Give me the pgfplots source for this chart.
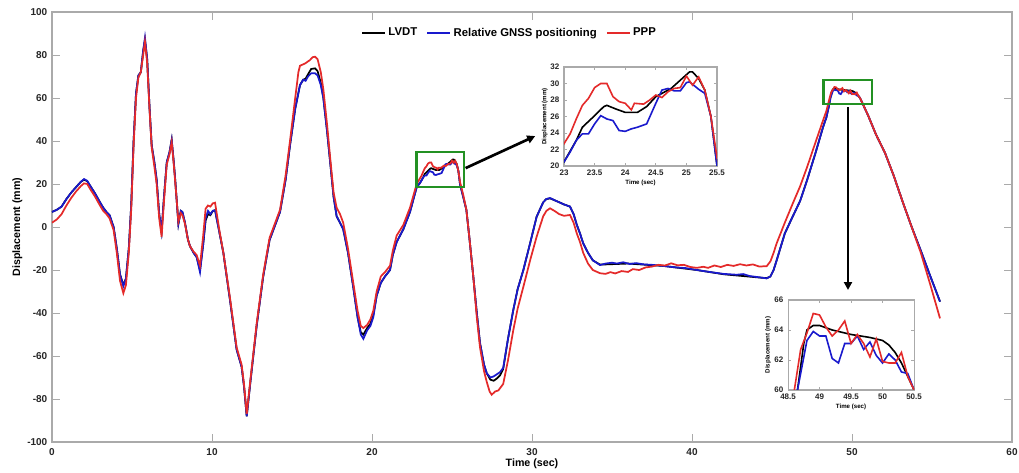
\documentclass[border=0pt]{standalone}
\usepackage{fontspec}
\setmainfont{Liberation Sans}
\usepackage{pgfplots}
\usepackage{pgfplotstable}
\pgfplotsset{compat=1.18}
\usetikzlibrary{arrows.meta}
\definecolor{cblue}{RGB}{25,25,205}
\definecolor{cred}{RGB}{228,42,42}
\definecolor{cgreen}{RGB}{35,145,35}
\definecolor{axgray}{RGB}{170,170,170}

\pgfplotstableread{
t v
0 7
0.3 8
0.6 9.5
0.9 13
1.2 16
1.5 18.5
1.8 21
2.0 22
2.2 21.3
2.4 19
2.7 15.5
3.0 11.5
3.2 9
3.4 7
3.6 5.5
3.85 0
4.05 -10
4.25 -22
4.46 -27
4.62 -24
4.8 -10
4.95 10
5.1 40
5.25 62
5.4 70.5
5.55 72
5.7 82
5.81 87
5.95 78
6.1 55
6.23 38
6.4 30
6.54 22
6.7 6
6.85 -2
7.0 14
7.17 30
7.35 35
7.48 40.5
7.6 31
7.69 23
7.9 1.5
8.05 7.5
8.15 7
8.31 2
8.5 -6
8.63 -9
8.85 -12
9.04 -14
9.25 -20
9.45 -8
9.6 3
9.75 6
9.9 5.5
10.05 7.5
10.19 7.8
10.45 -2
10.71 -12
11.125 -34
11.54 -57
11.85 -65
12.0 -74
12.17 -88
12.4 -72
12.79 -46
13.2 -23
13.6 -6
13.9 0
14.25 7
14.6 22
14.875 38
15.2 55
15.5 66
15.7 68.5
15.85 69
16.0 71
16.2 73.5
16.44 73.8
16.6 72.5
16.8 67
16.96 60
17.2 44
17.375 31
17.6 14
17.79 5
18.0 2
18.2 -1
18.5 -12
18.83 -28
19.1 -42
19.3 -49
19.46 -50
19.7 -47
19.9 -45
20.08 -41
20.29 -32
20.55 -26
20.81 -23
21.125 -20
21.3 -13
21.54 -7
21.96 -1
22.375 7
22.79 18.5
23.0 20.5
23.2 23.1
23.3 24.7
23.5 26.1
23.65 27.2
23.7 27.35
23.85 26.9
24.0 26.5
24.2 26.5
24.35 27.2
24.5 28.4
24.75 29.4
24.9 30.4
25.05 31.4
25.1 31.4
25.2 30.6
25.3 29.2
25.4 26
25.5 20
25.7 14
25.9 7.9
26.1 -6
26.33 -23
26.55 -40
26.75 -54
27.0 -64
27.17 -68
27.4 -71
27.6 -71.5
27.8 -70.5
28.0 -69
28.2 -66
28.5 -52
28.83 -38.6
29.1 -29
29.46 -20
29.9 -7
30.29 4.8
30.7 11.5
30.9 13
31.125 13.3
31.4 12.5
31.7 11.5
32.0 10.5
32.375 9.5
32.6 6
32.8 1
33.0 -3
33.2 -7.6
33.5 -12
33.8 -15.5
34.25 -17.5
36.0 -17
38.2 -18.1
40.3 -20
42.0 -22
44.67 -23.8
44.9 -23
45.1 -20
45.29 -15.5
45.8 -3
46.3 5
46.75 12
47.2 22
47.7 34
48.2 46.7
48.4 51
48.55 56
48.65 60
48.75 63.1
48.8 64
48.9 64.3
49.0 64.3
49.2 64
49.5 63.7
49.8 63.5
50.0 63.3
50.1 63
50.2 62.5
50.3 61.8
50.4 60.9
50.5 60
50.75 56
51.0 52
51.5 43
52.06 34.5
52.6 24
53.2 11
53.73 0
54.3 -11
54.9 -23
55.5 -34.7
}\lvdt

\pgfplotstableread{
t v
0 7
0.3 8
0.6 9.5
0.9 13
1.2 16
1.5 18.5
1.8 21
2.0 22.3
2.2 21.5
2.4 19
2.7 15.5
3.0 11.5
3.2 9
3.4 7
3.6 5.5
3.85 0
4.05 -10
4.25 -22
4.46 -27.5
4.62 -24
4.8 -10
4.95 10
5.1 40
5.25 62
5.4 70.5
5.55 72
5.7 82
5.81 88
5.95 78
6.1 55
6.23 38
6.4 30
6.54 22
6.7 6
6.85 -2
7.0 14
7.17 30
7.35 35
7.48 40.5
7.6 31
7.69 23
7.9 1.5
8.05 7.5
8.15 7
8.31 2
8.5 -6
8.63 -9
8.85 -12
9.04 -14
9.25 -21
9.45 -8
9.6 4
9.75 7.5
9.9 6
10.05 7.5
10.19 7.8
10.45 -2
10.71 -12
11.125 -34
11.54 -57
11.85 -65
12.0 -74
12.17 -88
12.4 -72
12.79 -46
13.2 -23
13.6 -6
13.9 0
14.25 7
14.6 22
14.875 38
15.2 55
15.5 66
15.7 68.5
15.85 68
16.0 70
16.2 71.5
16.44 71.5
16.6 70.5
16.8 66
16.96 60
17.2 44
17.375 31
17.6 14
17.79 5
18.0 2
18.2 -1
18.5 -12
18.83 -28
19.1 -42
19.3 -50
19.46 -52
19.7 -48
19.9 -46
20.08 -42
20.29 -32
20.55 -26
20.81 -23
21.125 -20
21.3 -13
21.54 -7
21.96 -1
22.375 7
22.79 18.5
23.0 20.5
23.1 21.7
23.2 23.1
23.3 23.9
23.4 23.9
23.5 25.1
23.6 26.1
23.7 25.7
23.8 25.5
23.9 24.3
24.0 24.2
24.1 24.5
24.2 24.7
24.35 25.1
24.5 27.6
24.6 29.2
24.7 29.4
24.8 29.1
24.9 29.1
25.0 30.1
25.05 30.2
25.1 29.9
25.2 29.3
25.3 28.8
25.4 26
25.5 20
25.7 14
25.9 7.9
26.1 -6
26.33 -23
26.55 -40
26.75 -54
27.0 -64
27.17 -68
27.4 -70
27.6 -69.5
27.8 -68.5
28.0 -67.5
28.2 -65.5
28.5 -52
28.83 -38.6
29.1 -29
29.46 -20
29.9 -7
30.29 4.8
30.7 11.5
30.9 13
31.125 13.5
31.4 12.5
31.7 11.5
32.0 10.5
32.375 9.5
32.6 6
32.8 1
33.0 -3
33.2 -7.6
33.5 -12
33.8 -15.5
34.25 -17.7
34.6 -17
35.0 -16.6
35.3 -17
35.7 -16.4
36.1 -17.2
36.5 -16.8
37.0 -17.4
37.5 -17.6
38.2 -18.1
39.0 -18.8
39.6 -19.1
40.3 -20
41.0 -20.8
41.96 -21.8
42.8 -22.2
43.2 -21.9
43.6 -22.8
44.2 -23.4
44.67 -23.9
44.9 -23
45.1 -20
45.29 -15.5
45.8 -3
46.3 5
46.75 12
47.2 22
47.7 34
48.2 46.7
48.4 51
48.55 56
48.65 60
48.75 62.2
48.8 63.3
48.9 63.9
49.0 63.6
49.1 63.6
49.2 62.1
49.3 61.8
49.4 63.1
49.5 63.1
49.6 63.6
49.7 62.7
49.8 63.2
49.9 62.3
50.0 61.8
50.1 62.4
50.2 62
50.3 61.2
50.4 61.1
50.5 60
50.75 56
51.0 52
51.5 43
52.06 34.5
52.6 24
53.2 11
53.73 0
54.3 -11
54.9 -23
55.5 -34.7
}\gnss

\pgfplotstableread{
t v
0 2
0.3 3.5
0.6 6
0.9 10
1.2 13.5
1.5 16.5
1.8 19
2.0 20.3
2.2 20
2.4 17.5
2.7 14
3.0 10
3.2 7.5
3.4 6
3.6 4
3.85 -1.5
4.05 -12
4.25 -25
4.46 -30.8
4.62 -27
4.8 -12
4.95 8
5.1 38
5.25 60
5.4 69.5
5.55 72
5.7 80
5.81 86.2
5.95 76
6.1 54
6.23 37
6.4 28
6.54 20
6.7 4
6.85 -4.5
7.0 12
7.17 29
7.35 34
7.48 39.5
7.6 30
7.69 22
7.9 2.5
8.05 6.5
8.15 5.5
8.31 1.5
8.5 -6
8.63 -9
8.85 -11.5
9.04 -13
9.25 -18
9.45 -4
9.6 8.5
9.75 10
9.9 9.5
10.05 11
10.19 11.3
10.45 -1
10.71 -12
11.125 -33
11.54 -56
11.85 -64
12.0 -73
12.17 -87
12.4 -71
12.79 -45
13.2 -22
13.6 -5
13.9 1
14.25 8
14.6 24
14.875 40
15.2 60
15.4 72
15.5 75
15.8 76
16.1 77.5
16.3 79
16.44 79.2
16.6 78
16.8 72
16.96 64
17.2 47
17.375 33
17.6 16
17.79 9
18.0 6
18.2 2
18.5 -10
18.83 -26
19.1 -39
19.3 -46
19.46 -47
19.7 -45.5
19.9 -43
20.08 -39
20.29 -30
20.55 -23
20.81 -21
21.125 -18
21.3 -11
21.54 -4
21.96 1
22.375 9
22.79 20
23.0 22.7
23.1 23.9
23.2 25.7
23.3 27.35
23.4 28.2
23.5 29.5
23.6 30
23.7 30
23.8 28.4
23.9 27.8
24.0 27.6
24.1 26.8
24.15 27.6
24.3 27.5
24.4 28
24.5 28.6
24.6 28.3
24.7 29
24.8 29.4
24.9 29.5
25.0 30.9
25.1 29.8
25.2 30.8
25.3 29.2
25.4 26
25.5 21
25.7 15
25.9 8
26.1 -6
26.33 -23
26.55 -42
26.75 -56
27.0 -67
27.17 -72
27.35 -76.5
27.48 -78
27.7 -76.5
27.9 -76
28.2 -73
28.5 -62
28.83 -48
29.1 -38
29.46 -27.8
29.9 -15
30.29 -4.5
30.7 5
30.9 7.5
31.125 8.7
31.4 7.5
31.7 6
32.0 5.2
32.375 5.6
32.6 2
32.8 -3
33.0 -7
33.2 -12
33.5 -17
33.8 -20
34.25 -21.5
34.6 -21.8
34.9 -21
35.2 -21.6
35.6 -20.5
36.0 -20.9
36.3 -19.6
36.7 -20
37.1 -18.8
37.5 -18.4
37.9 -17.6
38.3 -17.9
38.7 -16.9
39.1 -17.8
39.5 -17.6
39.9 -18.6
40.3 -19
40.7 -18.5
41.0 -19
41.4 -17.9
41.8 -18.6
42.2 -17.6
42.6 -18.1
43.0 -17.3
43.4 -17.9
43.8 -17.4
44.2 -18.4
44.67 -18.2
44.9 -16
45.1 -12
45.29 -7.6
45.8 2
46.3 11
46.75 18.8
47.2 28
47.7 39
48.2 49.8
48.4 54
48.5 57
48.6 60
48.7 62.7
48.8 63.8
48.9 65.1
49.0 65
49.1 64.2
49.2 63.6
49.3 64
49.4 64.6
49.5 63.1
49.6 63.7
49.7 63.1
49.8 62.2
49.9 63.4
50.0 61.9
50.1 61.8
50.2 61.8
50.3 62.5
50.4 60.9
50.5 60
50.75 56
51.0 52
51.5 43
52.06 34.5
52.6 24
53.2 11
53.73 0
54.3 -12
54.9 -27
55.5 -42.5
}\ppp

\pgfplotsset{
  common/.style={
    scale only axis,
    axis line style={axgray, line width=0.8pt},
    every tick/.style={axgray, line width=0.6pt},
    tick align=inside,
    /pgf/number format/assume math mode=true,
    tick label style={text=black!85},
  },
}

\begin{document}
\begin{tikzpicture}
\begin{axis}[common,
  width=720pt, height=322.5pt,
  xmin=0, xmax=60, ymin=-100, ymax=100,
  xtick={0,10,20,30,40,50,60},
  ytick={-100,-80,-60,-40,-20,0,20,40,60,80,100},
  major tick length=6pt,
  tick label style={font=\bfseries\fontsize{7.5}{9}\selectfont},
  xticklabel style={yshift=-1.5pt},
  xlabel={\bfseries Time (sec)},
  ylabel={\bfseries Displacement (mm)},
  label style={font=\bfseries\fontsize{8}{10}\selectfont},
  xlabel style={at={(axis description cs:0.5,0)}, anchor=center, yshift=-16pt},
  ylabel style={at={(axis description cs:0,0.5)}, anchor=center, yshift=26pt},
  legend style={at={(axis description cs:0.477,0.951)}, anchor=center, draw=none, fill=none,
    legend columns=-1, font=\bfseries\fontsize{8.5}{10}\selectfont,
    /tikz/every even column/.append style={column sep=5pt}},
  legend cell align=left,
]
\addplot[black, line width=1.3pt] table[x=t,y=v] {\lvdt};
\addlegendentry{LVDT}
\addplot[cblue, line width=1.3pt] table[x=t,y=v] {\gnss};
\addlegendentry{Relative GNSS positioning}
\addplot[cred, line width=1.3pt] table[x=t,y=v] {\ppp};
\addlegendentry{PPP}
\draw[cgreen, line width=2pt] (axis cs:22.8,18.6) rectangle (axis cs:25.75,34.9);
\draw[cgreen, line width=2pt] (axis cs:48.2,57.2) rectangle (axis cs:51.25,68.4);
\draw[black, line width=2pt, -{Triangle[length=6pt,width=6pt]}] (axis cs:25.85,27.4) -- (axis cs:30.2,42.3);
\draw[black, line width=2pt, -{Triangle[length=6pt,width=6pt]}] (axis cs:49.75,55.8) -- (axis cs:49.75,-29.3);
\end{axis}

\begin{axis}[common,
  at={(384pt,207pt)}, anchor=south west,
  width=114.75pt, height=74.25pt,
  xmin=23, xmax=25.5, ymin=20, ymax=32,
  xtick={23,23.5,24,24.5,25,25.5},
  ytick={20,22,24,26,28,30,32},
  major tick length=2.5pt,
  axis background/.style={fill=white},
  tick label style={font=\bfseries\fontsize{6}{7}\selectfont},
  xticklabel style={yshift=0.5pt},
  xlabel={\bfseries Time (sec)},
  ylabel={\bfseries Displacement (mm)},
  label style={font=\bfseries\fontsize{4.6}{5.5}\selectfont},
  xlabel style={at={(axis description cs:0.5,0)}, anchor=center, yshift=-12.5pt},
  ylabel style={at={(axis description cs:0,0.5)}, anchor=center, yshift=14.5pt},
]
\addplot[black, line width=1.2pt] table[x=t,y=v] {\lvdt};
\addplot[cblue, line width=1.2pt] table[x=t,y=v] {\gnss};
\addplot[cred, line width=1.2pt] table[x=t,y=v] {\ppp};
\end{axis}

\begin{axis}[common,
  at={(552pt,39pt)}, anchor=south west,
  width=94.5pt, height=67.5pt,
  xmin=48.5, xmax=50.5, ymin=60, ymax=66,
  xtick={48.5,49,49.5,50,50.5},
  ytick={60,62,64,66},
  major tick length=2.5pt,
  axis background/.style={fill=white},
  tick label style={font=\bfseries\fontsize{6}{7}\selectfont},
  xticklabel style={yshift=0.8pt},
  xlabel={\bfseries Time (sec)},
  ylabel={\bfseries Displacement (mm)},
  label style={font=\bfseries\fontsize{4.6}{5.5}\selectfont},
  xlabel style={at={(axis description cs:0.5,0)}, anchor=center, yshift=-12.5pt},
  ylabel style={at={(axis description cs:0,0.5)}, anchor=center, yshift=15pt},
]
\addplot[black, line width=1.2pt] table[x=t,y=v] {\lvdt};
\addplot[cblue, line width=1.2pt] table[x=t,y=v] {\gnss};
\addplot[cred, line width=1.2pt] table[x=t,y=v] {\ppp};
\end{axis}
\pgfresetboundingbox
\path (-39pt,-22.5pt) rectangle (725.25pt,331.5pt);
\end{tikzpicture}
\end{document}
